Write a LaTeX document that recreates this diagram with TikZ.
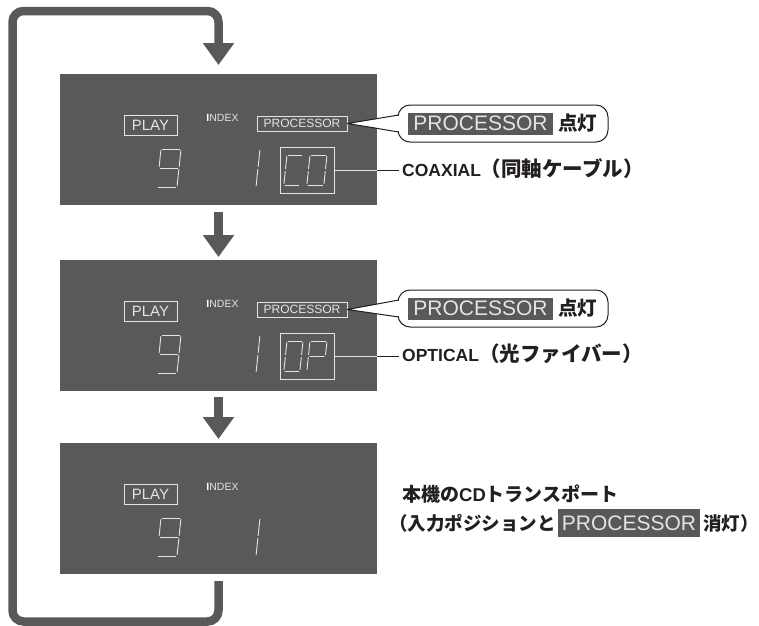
\documentclass[tikz,border=0pt]{standalone}
\usepackage{fontspec}
\setmainfont{Liberation Sans}
\newfontfamily\jp{Noto Sans CJK JP}
\usetikzlibrary{arrows.meta,calc}
\definecolor{pgray}{RGB}{88,89,91}
\definecolor{lite}{RGB}{228,228,228}
\definecolor{ink}{RGB}{35,31,32}
\tikzset{
 panel/.style={fill=pgray, draw=none, minimum width=317pt, minimum height=131pt, inner sep=0pt, outer sep=0pt},
 lcdbox/.style={draw=lite, line width=0.8pt, inner sep=0pt, minimum height=20pt, text=lite},
 lcdtxt/.style={text=lite, inner sep=0pt},
 segline/.style={draw=lite, line width=0.9pt, line cap=round},
 flowarrow/.style={draw=pgray, line width=8.5pt, -{Triangle[width=30pt,length=22pt]}},
 looppath/.style={draw=pgray, line width=8.5pt, rounded corners=11pt},
 callout/.style={draw=ink, fill=white, line width=1pt, rounded corners=12pt, minimum width=210pt, minimum height=37pt, inner sep=0pt},
 hilite/.style={fill=pgray, text=lite, inner sep=0pt},
 label/.style={text=ink, inner sep=0pt, anchor=west},
 leader/.style={draw=ink, line width=0.9pt},
}
\def\dS{0.105}
\newcommand\setdigit[4]{\def\dX{#1}\def\dY{#2}\def\dW{#3}\def\dH{#4}}
\newcommand\dseg[4]{\draw[segline] ({\dX+(#1)-\dS*(#2)},{\dY+(#2)}) -- ({\dX+(#3)-\dS*(#4)},{\dY+(#4)});}
\newcommand\sgA{\dseg{1.3}{0}{\dW-1.3}{0}}
\newcommand\sgB{\dseg{\dW}{1.3}{\dW}{\dH/2-1.3}}
\newcommand\sgC{\dseg{\dW}{\dH/2+1.3}{\dW}{\dH-1.3}}
\newcommand\sgD{\dseg{1.3}{\dH}{\dW-1.3}{\dH}}
\newcommand\sgE{\dseg{0}{\dH/2+1.3}{0}{\dH-1.3}}
\newcommand\sgF{\dseg{0}{1.3}{0}{\dH/2-1.3}}
\newcommand\sgG{\dseg{1.3}{\dH/2}{\dW-1.3}{\dH/2}}
\newcommand\lcdcommon[2]{%
 \begin{scope}[shift={(0,#2)}]
  \node[lcdbox, minimum width=53pt] (#1play) at (150.5,125) {\fontsize{15}{15}\selectfont PLAY};
  \node[lcdtxt] (#1index) at (222.5,118) {\fontsize{10.5}{10.5}\selectfont{\color{white}\bfseries I}NDEX};
  \setdigit{161}{149}{20}{38}\sgA\sgB\sgC\sgD\sgF\sgG
  \setdigit{240}{149}{20}{38}\sgB\sgC
 \end{scope}}
\newcommand\lcdproc[2]{%
 \begin{scope}[shift={(0,#2)}]
  \node[lcdbox, minimum width=90pt, minimum height=15pt] (#1proc) at (302,123.5) {\fontsize{12}{12}\selectfont PROCESSOR};
  \node[lcdbox, minimum width=54pt, minimum height=46pt] (#1code) at (307,170) {};
 \end{scope}}
\begin{document}
\begin{tikzpicture}[x=1pt,y=-1pt]
\useasboundingbox (0,0) rectangle (759,625);
% panels
\node[panel] (p1) at (218.5,139.5) {};
\node[panel] (p2) at (218.5,325.5) {};
\node[panel] (p3) at (218.5,508.5) {};
\lcdcommon{p1}{0}
\lcdcommon{p2}{186}
\lcdcommon{p3}{369}
\lcdproc{p1}{0}
\lcdproc{p2}{186}
% code digits panel 1: C0
\setdigit{287}{155}{16}{30}\sgA\sgD\sgE\sgF
\setdigit{310}{155}{17}{30}\sgA\sgB\sgC\sgD\sgE\sgF
% code digits panel 2: 0P
\setdigit{287}{341}{16}{30}\sgA\sgB\sgC\sgD\sgE\sgF
\setdigit{310}{341}{17}{30}\sgA\sgB\sgE\sgF\sgG
% arrows
\draw[flowarrow] ($(p1.south)+(0,7)$) -- ($(p2.north)+(0,-3)$);
\draw[flowarrow] ($(p2.south)+(0,6)$) -- ($(p3.north)+(0,-4)$);
\coordinate (lpa) at (218.5,621.5);
\coordinate (lpb) at (12.5,621.5);
\coordinate (lpc) at (12.5,11);
\coordinate (lpd) at (218.5,11);
\draw[looppath, -{Triangle[width=30pt,length=22pt]}] ($(p3.south)+(0,7)$) -- (lpa) -- (lpb) -- (lpc) -- (lpd) -- ($(p1.north)+(0,-9)$);
% callouts
\foreach \k/\cy in {1/123.5, 2/308.5}{
  \node[callout] (c\k) at (503,\cy) {};
  \coordinate (c\k u) at ($(c\k.west)+(1.2,-8.5)$);
  \coordinate (c\k d) at ($(c\k.west)+(1.2,8.5)$);
  \fill[white] ($(c\k.west)+(3,-8)$) -- (p\k proc.east) -- ($(c\k.west)+(3,8)$) -- cycle;
  \draw[ink, line width=1pt, line join=round] (c\k u) -- (p\k proc.east) -- (c\k d);
  \node[hilite, minimum width=145pt, minimum height=22pt] (c\k p) at (480.5,\cy) {\fontsize{21}{21}\selectfont PROCESSOR};
  \node[label] (c\k t) at (558,\cy) {\jp\bfseries\fontsize{19.5}{20}\selectfont 点灯};
}
% labels
\node[label] (l1) at (402,169) {\bfseries\fontsize{17.5}{20}\selectfont COAXIAL{\jp\fontsize{20.5}{20}\selectfont （同軸ケーブル）}};
\node[label] (l2) at (402,354) {\bfseries\fontsize{17.5}{20}\selectfont OPTICAL{\jp\fontsize{20.5}{20}\selectfont （光ファイバー）}};
\draw[leader, shorten >=3pt] (p1code.east) -- (l1.west |- p1code.east);
\draw[leader, shorten >=3pt] (p2code.east) -- (l2.west |- p2code.east);
\draw[draw=lite, line width=0.9pt] (p1code.east) -- (p1code.east -| p1.east);
\draw[draw=lite, line width=0.9pt] (p2code.east) -- (p2code.east -| p2.east);
\node[label] (l3) at (402,494) {\bfseries{\jp\fontsize{19}{19}\selectfont 本機の}\fontsize{18.5}{19}\selectfont CD{\jp\fontsize{19}{19}\selectfont トランスポート}};
\node[label] (l4a) at (389,523) {\jp\bfseries\fontsize{18.5}{19}\selectfont （入力ポジションと};
\node[hilite, minimum width=142pt, minimum height=28pt] (l4p) at (629,523) {\fontsize{21}{21}\selectfont PROCESSOR};
\node[label] (l4b) at (703,523) {\jp\bfseries\fontsize{18.5}{19}\selectfont 消灯）};
\end{tikzpicture}
\end{document}
